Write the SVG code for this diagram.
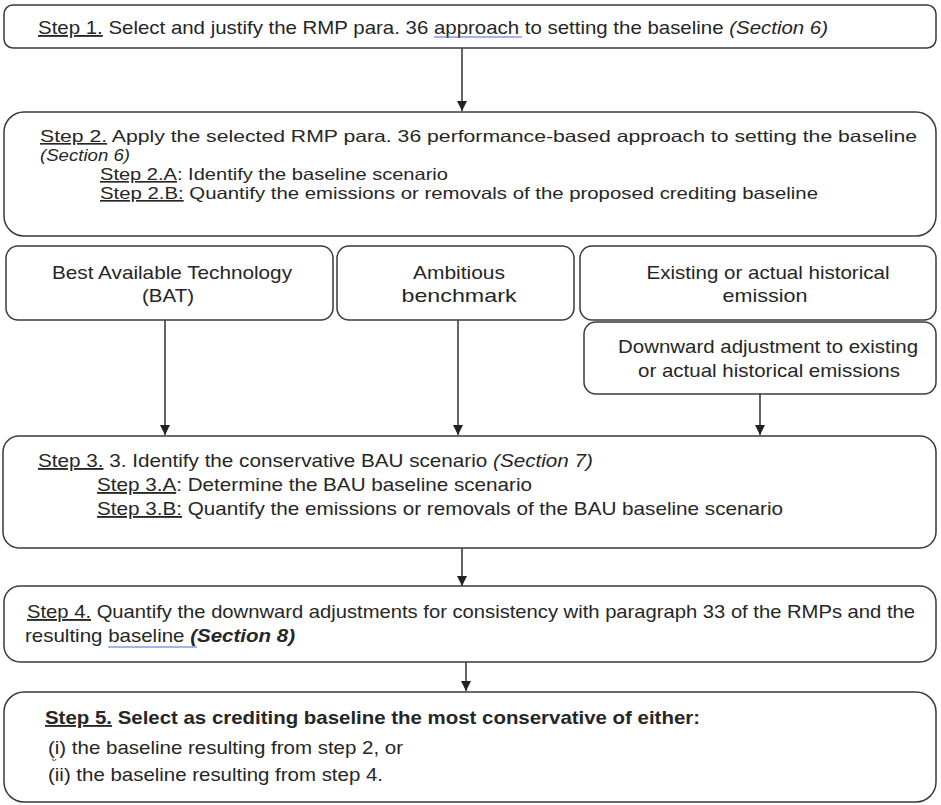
<svg xmlns="http://www.w3.org/2000/svg" width="941" height="805" viewBox="0 0 941 805">
<style>
.box{fill:#fff;stroke:#3a3a3a;stroke-width:1.5}
.t{font-family:"Liberation Sans",Arial,sans-serif;font-size:18.5px;fill:#262626}
.s{font-size:16.5px}
.c{text-anchor:middle}
.u{text-decoration:underline}
.i{font-style:italic}
.b{font-weight:bold}
.conn{stroke:#222;stroke-width:1.4;fill:none;marker-end:url(#ah)}
.spell{stroke:#4a6fd0;stroke-width:1.2;fill:none}
</style>
<defs>
<marker id="ah" markerUnits="userSpaceOnUse" markerWidth="10" markerHeight="11" refX="10" refY="5" orient="auto" viewBox="0 0 10 10">
<path d="M0,0 L10,5 L0,10 z" fill="#222"/>
</marker>
</defs>
<rect width="941" height="805" fill="#fff"/>
<g id="connectors">
<line class="conn" x1="462" y1="48" x2="462" y2="111"/>
<line class="conn" x1="165" y1="320" x2="165" y2="435"/>
<line class="conn" x1="458" y1="320" x2="458" y2="435"/>
<line class="conn" x1="760" y1="394" x2="760" y2="435"/>
<line class="conn" x1="462" y1="548" x2="462" y2="586"/>
<line class="conn" x1="466" y1="662" x2="466" y2="691"/>
</g>
<g id="step1">
<rect class="box" x="4" y="5" width="932" height="43" rx="9"/>
<text class="t" x="38" y="34" textLength="790" lengthAdjust="spacingAndGlyphs"><tspan class="u">Step 1.</tspan> Select and justify the RMP para. 36 approach to setting the baseline <tspan class="i">(Section 6)</tspan></text>
<path class="spell" d="M434,37 L522,37"/>
</g>
<g id="step2">
<rect class="box" x="4" y="112" width="932" height="124" rx="20"/>
<text class="t s" x="40" y="142" textLength="877" lengthAdjust="spacingAndGlyphs"><tspan class="u">Step 2.</tspan> Apply the selected RMP para. 36 performance-based approach to setting the baseline</text>
<text class="t s i" x="40" y="161" textLength="90" lengthAdjust="spacingAndGlyphs">(Section 6)</text>
<text class="t s" x="100" y="180" textLength="348" lengthAdjust="spacingAndGlyphs"><tspan class="u">Step 2.A</tspan>: Identify the baseline scenario</text>
<text class="t s" x="100" y="199" textLength="718" lengthAdjust="spacingAndGlyphs"><tspan class="u">Step 2.B:</tspan> Quantify the emissions or removals of the proposed crediting baseline</text>
</g>
<g id="bat">
<rect class="box" x="6" y="246" width="327" height="74" rx="12"/>
<text class="t c" x="172" y="279" textLength="240" lengthAdjust="spacingAndGlyphs">Best Available Technology</text>
<text class="t c" x="168" y="302" textLength="52" lengthAdjust="spacingAndGlyphs">(BAT)</text>
</g>
<g id="ambitious">
<rect class="box" x="337" y="246" width="237" height="74" rx="12"/>
<text class="t c" x="459" y="279" textLength="92" lengthAdjust="spacingAndGlyphs">Ambitious</text>
<text class="t c" x="459" y="302" textLength="115" lengthAdjust="spacingAndGlyphs">benchmark</text>
</g>
<g id="existing">
<rect class="box" x="580" y="246" width="356" height="74" rx="12"/>
<text class="t c" x="768" y="279" textLength="243" lengthAdjust="spacingAndGlyphs">Existing or actual historical</text>
<text class="t c" x="765" y="302" textLength="85" lengthAdjust="spacingAndGlyphs">emission</text>
</g>
<g id="downward">
<rect class="box" x="584" y="322" width="352" height="72" rx="12"/>
<text class="t c" x="768" y="353" textLength="300" lengthAdjust="spacingAndGlyphs">Downward adjustment to existing</text>
<text class="t c" x="769" y="377" textLength="262" lengthAdjust="spacingAndGlyphs">or actual historical emissions</text>
</g>
<g id="step3">
<rect class="box" x="3" y="436" width="933" height="112" rx="16"/>
<text class="t" x="38" y="467" textLength="555" lengthAdjust="spacingAndGlyphs"><tspan class="u">Step 3.</tspan> 3. Identify the conservative BAU scenario <tspan class="i">(Section 7)</tspan></text>
<text class="t" x="97" y="491" textLength="435" lengthAdjust="spacingAndGlyphs"><tspan class="u">Step 3.A</tspan>: Determine the BAU baseline scenario</text>
<text class="t" x="97" y="515" textLength="686" lengthAdjust="spacingAndGlyphs"><tspan class="u">Step 3.B:</tspan> Quantify the emissions or removals of the BAU baseline scenario</text>
</g>
<g id="step4">
<rect class="box" x="4" y="586" width="932" height="76" rx="16"/>
<text class="t" x="27" y="618" textLength="888" lengthAdjust="spacingAndGlyphs"><tspan class="u">Step 4.</tspan> Quantify the downward adjustments for consistency with paragraph 33 of the RMPs and the</text>
<text class="t" x="25" y="642" textLength="270" lengthAdjust="spacingAndGlyphs">resulting baseline <tspan class="b i">(Section 8)</tspan></text>
<path class="spell" d="M108,647 L197,647"/>
</g>
<g id="step5">
<rect class="box" x="4" y="692" width="932" height="110" rx="20"/>
<text class="t b" x="45" y="724" textLength="655" lengthAdjust="spacingAndGlyphs"><tspan class="u">Step 5.</tspan> Select as crediting baseline the most conservative of either:</text>
<text class="t" x="48" y="754" textLength="355" lengthAdjust="spacingAndGlyphs">(i) the baseline resulting from step 2, or</text>
<path d="M52,759 Q54,762 56,759" stroke="#d03030" stroke-width="1.2" fill="none"/>
<text class="t" x="48" y="781" textLength="335" lengthAdjust="spacingAndGlyphs">(ii) the baseline resulting from step 4.</text>
</g>
</svg>
